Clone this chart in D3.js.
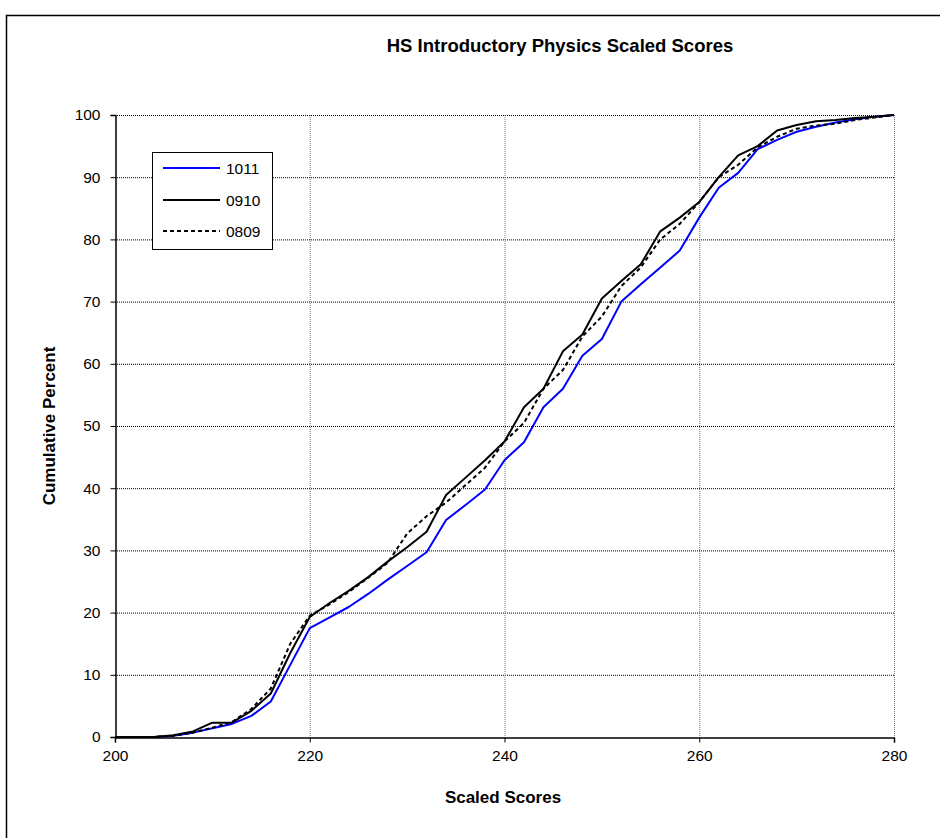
<!DOCTYPE html>
<html><head><meta charset="utf-8">
<script src="https://cdn.jsdelivr.net/npm/d3@7"></script>
<style>
body{margin:0;background:#fff;}
text{font-family:"Liberation Sans",Arial,sans-serif;}
</style></head>
<body>
<svg id="c" width="940" height="838"></svg>
<script>
const scores = [200,202,204,206,208,210,212,214,216,218,220,222,224,226,228,230,232,234,236,238,240,242,244,246,248,250,252,254,256,258,260,262,264,266,268,270,272,274,276,278,280];
const s1011 = [0,0,0,0.2,0.7,1.4,2.1,3.4,5.7,11.6,17.5,19.2,20.9,23,25.3,27.5,29.7,34.9,37.3,39.8,44.5,47.4,53,56,61.3,64,70,72.8,75.5,78.2,83.5,88.3,90.7,94.5,96,97.3,98.1,98.8,99.3,99.7,100];
const s0910 = [0,0,0,0.3,0.9,2.3,2.3,4.2,7,13.5,19.3,21.5,23.5,25.7,28.2,30.5,33,38.9,41.7,44.5,47.5,53,56,62,64.7,70.5,73.3,76,81.3,83.5,86,90,93.5,95,97.5,98.4,99,99.2,99.5,99.7,100];
const s0809 = [0,0,0,0.2,0.7,1.5,2.4,4.5,7.8,15,19.5,21.3,23.3,25.6,28,32.7,35.5,37.7,40.5,43.3,47.5,50.5,56,59,64.4,67.6,72.5,75.5,80,82.5,86,90,92,94.8,96.5,97.8,98.3,98.6,99.2,99.6,100];
const xTicks = [200,220,240,260,280];
const yTicks = [0,10,20,30,40,50,60,70,80,90,100];
const seriesNames = ["1011","0910","0809"];
const title = "HS Introductory Physics Scaled Scores";
const xLabel = "Scaled Scores";
const yLabel = "Cumulative Percent";

const svg = d3.select("#c");
// outer frame
svg.append("rect").attr("x",6.5).attr("y",15.5).attr("width",940).attr("height",840)
  .attr("fill","none").attr("stroke","#000").attr("stroke-width",1.5);

const L=115, R=894, T=115, B=737;
const x = d3.scaleLinear().domain([200,280]).range([L,R]);
const y = d3.scaleLinear().domain([0,100]).range([B,T]);

// gridlines
const g = svg.append("g");
g.selectAll(".hg").data(yTicks.filter(d=>d>0)).join("line")
  .attr("x1",L).attr("x2",R).attr("y1",d=>y(d)+0.5).attr("y2",d=>y(d)+0.5)
  .attr("stroke","#000").attr("stroke-width",1).attr("stroke-dasharray","1,1");
g.selectAll(".vg").data(xTicks.filter(d=>d>200)).join("line")
  .attr("y1",T).attr("y2",B).attr("x1",d=>x(d)+0.5).attr("x2",d=>x(d)+0.5)
  .attr("stroke","#777").attr("stroke-width",1).attr("stroke-dasharray","1,1");

// axes
const xAxis = d3.axisBottom(x).tickValues(xTicks).tickSize(5).tickPadding(7).tickFormat(d3.format("d"));
const yAxis = d3.axisLeft(y).tickValues(yTicks).tickSize(5).tickPadding(10).tickFormat(d3.format("d"));
const gx = svg.append("g").attr("transform",`translate(0,${B+0.5})`).call(xAxis);
const gy = svg.append("g").attr("transform",`translate(${L+0.5},0)`).call(yAxis);
[gx,gy].forEach(a=>{
  a.selectAll("path").attr("stroke","#000").attr("stroke-width",1.5);
  a.selectAll("line").attr("stroke","#000");
  a.selectAll("text").attr("font-size",15.5).attr("fill","#000").attr("font-family","'Liberation Sans',Arial,sans-serif");
});

// lines
const line = d3.line().x((d,i)=>x(scores[i])).y(d=>y(d));
const styles = [
  {data:s1011, color:"#0000ff", dash:null},
  {data:s0910, color:"#000000", dash:null},
  {data:s0809, color:"#000000", dash:"4,3"}
];
styles.forEach(s=>{
  svg.append("path").datum(s.data).attr("d",line).attr("fill","none")
    .attr("stroke",s.color).attr("stroke-width",2).attr("stroke-linejoin","round")
    .attr("stroke-dasharray",s.dash);
});

// title & labels
svg.append("text").attr("x",560).attr("y",52).attr("text-anchor","middle")
  .attr("font-weight","bold").attr("font-size",18.5).text(title);
svg.append("text").attr("x",503).attr("y",803).attr("text-anchor","middle")
  .attr("font-weight","bold").attr("font-size",17).text(xLabel);
svg.append("text").attr("transform","translate(55,426) rotate(-90)").attr("text-anchor","middle")
  .attr("font-weight","bold").attr("font-size",17).text(yLabel);

// legend
const lg = svg.append("g");
lg.append("rect").attr("x",152.5).attr("y",152.5).attr("width",120).attr("height",97)
  .attr("fill","#fff").attr("stroke","#000").attr("stroke-width",1);
const rowsY=[168,200,231];
styles.forEach((s,i)=>{
  lg.append("line").attr("x1",163).attr("x2",220).attr("y1",rowsY[i]).attr("y2",rowsY[i])
    .attr("stroke",s.color).attr("stroke-width",2).attr("stroke-dasharray",s.dash);
  lg.append("text").attr("x",226).attr("y",rowsY[i]+5.5).attr("font-size",15.5).text(seriesNames[i]);
});
</script>
</body></html>
